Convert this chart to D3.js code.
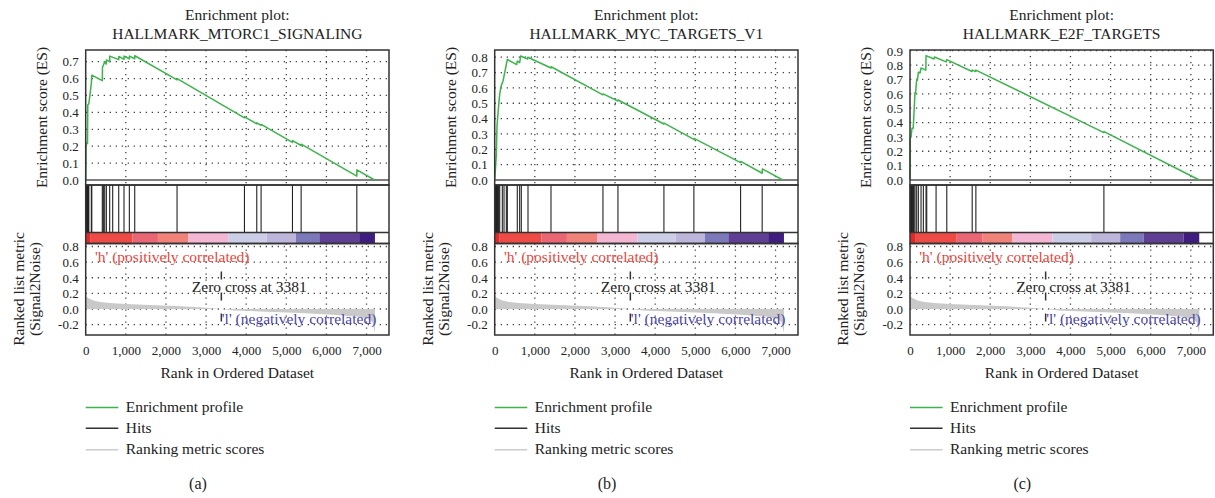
<!DOCTYPE html>
<html>
<head>
<meta charset="utf-8">
<script src="https://cdn.jsdelivr.net/npm/d3@7"></script>
<style>
  html, body { margin: 0; padding: 0; background: #fff; }
  svg { display: block; font-family: "Liberation Serif", "Times New Roman", serif; }
</style>
</head>
<body>
<svg id="chart" width="1215" height="498"></svg>
<script>
// ---------------- data ----------------
const panelLabels = ["(a)", "(b)", "(c)"];
const geneSets = ["HALLMARK_MTORC1_SIGNALING", "HALLMARK_MYC_TARGETS_V1", "HALLMARK_E2F_TARGETS"];

// running enrichment score, [rank, ES] vertices
const esCurveA = [[0,0],[8,0.22],[45,0.215],[52,0.445],[78,0.45],[140,0.57],[152,0.62],[414,0.588],[418,0.665],
  [474,0.70],[510,0.685],[515,0.71],[598,0.70],[600,0.733],[823,0.712],[825,0.731],[955,0.714],[957,0.733],
  [1088,0.716],[1090,0.733],[1222,0.717],[1224,0.735],[2277,0.592],[2279,0.600],[3957,0.368],[3959,0.374],
  [4264,0.332],[4266,0.338],[4372,0.323],[4374,0.329],[5154,0.223],[5156,0.233],[5370,0.204],[5372,0.212],
  [6758,0.023],[6760,0.060],[7200,0]];
const esCurveB = [[0,0],[40,0.16],[57,0.35],[90,0.46],[125,0.56],[157,0.61],[207,0.645],[249,0.70],[315,0.785],
  [548,0.752],[563,0.775],[622,0.765],[648,0.808],[822,0.788],[826,0.800],[1403,0.730],[1407,0.738],
  [2698,0.555],[2702,0.561],[3072,0.515],[3076,0.521],[4218,0.365],[4222,0.371],[4965,0.265],[4969,0.271],
  [6129,0.113],[6133,0.121],[6667,0.044],[6671,0.072],[7180,0]];
const esCurveC = [[0,0],[3,0.29],[25,0.30],[50,0.36],[80,0.36],[125,0.61],[140,0.605],[167,0.70],[185,0.695],
  [208,0.75],[250,0.745],[275,0.78],[395,0.765],[400,0.866],[600,0.842],[610,0.856],[900,0.822],[917,0.838],
  [1545,0.755],[1550,0.765],[1640,0.755],[1642,0.765],[4833,0.330],[4837,0.337],[7210,0]];

// ranks of the gene-set members in the ordered list
const hitsA = [3,8,14,20,27,35,45,52,60,68,78,140,152,414,440,474,515,598,673,823,955,1088,1222,
  2277,3957,4264,4372,5154,5370,6758];
const hitsB = [3,10,18,26,34,42,52,62,75,90,105,125,190,232,290,315,563,622,663,830,1403,2698,3072,
  4218,4965,6129,6667];
const hitsC = [3,10,18,26,35,45,55,70,85,100,125,167,208,275,333,400,417,650,917,1550,1642,4833];

// ranked list metric (Signal2Noise), [rank, value]
const metricCurve = [[0,0],[0,0.32],[4,0.20],[20,0.16],[60,0.14],[190,0.11],[360,0.09],[600,0.077],
  [1000,0.064],[1600,0.05],[2400,0.034],[3000,0.016],[3381,0],[3700,-0.018],[4500,-0.035],[5350,-0.05],
  [6150,-0.072],[6800,-0.098],[7050,-0.13],[7150,-0.17],[7200,-0.29],[7210,-0.29],[7210,0]];
const zeroCross = 3381;

// heat bar under the hits
const barBreaks = [0,125,1165,1800,2553,3553,4515,5238,5823,6816,7210];
const barColors = ["#e02a2a","#ee4b47","#ea6675","#f08279","#f4b7d3","#cccde6","#bdb6da","#7b79b9","#5e3f94","#3f1d80"];

// axes
const rankTicks = [0,1000,2000,3000,4000,5000,6000,7000];
const esTicksA = [0,0.1,0.2,0.3,0.4,0.5,0.6,0.7];
const esTicksB = [0,0.1,0.2,0.3,0.4,0.5,0.6,0.7,0.8];
const esTicksC = [0,0.1,0.2,0.3,0.4,0.5,0.6,0.7,0.8,0.9];
const metricTicks = [-0.2,0,0.2,0.4,0.6,0.8];

const legendItems = ["Enrichment profile", "Hits", "Ranking metric scores"];
const legendColors = ["#3cb44b", "#333333", "#cccccc"];

// ---------------- layout ----------------
const svg = d3.select("#chart");
const panelX = [85.7, 494.7, 910];
const panelW = 303.3;
const rankMax = 7560;
const esTopY = 50, esZeroY = 180, esBottomY = 185;
const hitsBottomY = 232.5, barBottomY = 243.5, metricBottomY = 335;
const esMax = [0.769, 0.847, 0.905];
const gridColor = "#444";
const green = "#3cb44b";

const panels = [
  { es: esCurveA, hits: hitsA, esTicks: esTicksA },
  { es: esCurveB, hits: hitsB, esTicks: esTicksB },
  { es: esCurveC, hits: hitsC, esTicks: esTicksC }
];

function dotted(sel) {
  return sel.attr("stroke", gridColor).attr("stroke-width", 1.3).attr("stroke-dasharray", "1.3,4.7");
}

panels.forEach((p, i) => {
  const x0 = panelX[i];
  const g = svg.append("g");
  const x = d3.scaleLinear().domain([0, rankMax]).range([x0, x0 + panelW]);
  const yEs = d3.scaleLinear().domain([0, esMax[i]]).range([esZeroY, esTopY]);
  const yM = d3.scaleLinear().domain([0, 0.8]).range([309, 246.5]);

  // title
  g.append("text").attr("x", x0 + panelW / 2).attr("y", 20).attr("text-anchor", "middle")
    .attr("font-size", 15.5).attr("fill", "#222").text("Enrichment plot:");
  g.append("text").attr("x", x0 + panelW / 2).attr("y", 38.5).attr("text-anchor", "middle")
    .attr("font-size", 15.5).attr("fill", "#222").text(geneSets[i]);

  // ---- ES panel ----
  p.esTicks.filter(t => t > 0).forEach(t => {
    dotted(g.append("line").attr("x1", x0).attr("x2", x0 + panelW).attr("y1", yEs(t)).attr("y2", yEs(t)));
  });
  rankTicks.filter(t => t > 0).forEach(t => {
    dotted(g.append("line").attr("x1", x(t)).attr("x2", x(t)).attr("y1", esTopY).attr("y2", esBottomY));
  });
  g.append("line").attr("x1", x0).attr("x2", x0 + panelW).attr("y1", yEs(0)).attr("y2", yEs(0))
    .attr("stroke", "#555").attr("stroke-width", 1.6);

  const esLine = d3.line().x(d => x(d[0])).y(d => yEs(d[1]));
  g.append("path").datum(p.es).attr("d", esLine).attr("fill", "none")
    .attr("stroke", green).attr("stroke-width", 1.5).attr("stroke-linejoin", "round");

  const esAxis = d3.axisLeft(yEs).tickValues(p.esTicks).tickSize(0).tickPadding(7)
    .tickFormat(d => d.toFixed(1));
  const ea = g.append("g").attr("transform", `translate(${x0},0)`).call(esAxis);
  ea.select(".domain").remove();
  ea.selectAll("text").attr("font-size", 13).attr("font-family", "Liberation Serif, serif")
    .attr("fill", "#222").attr("dy", "0.33em");

  g.append("rect").attr("x", x0).attr("y", esTopY).attr("width", panelW).attr("height", esBottomY - esTopY)
    .attr("fill", "none").attr("stroke", "#333").attr("stroke-width", 1.5);

  // ---- hits ----
  g.selectAll(".hit").data(p.hits).enter().append("line")
    .attr("x1", d => x(d)).attr("x2", d => x(d)).attr("y1", esBottomY).attr("y2", hitsBottomY)
    .attr("stroke", "#222").attr("stroke-width", 1.1);

  // ---- heat bar ----
  barColors.forEach((c, k) => {
    g.append("rect").attr("x", x(barBreaks[k])).attr("y", hitsBottomY)
      .attr("width", x(barBreaks[k + 1]) - x(barBreaks[k])).attr("height", barBottomY - hitsBottomY)
      .attr("fill", c);
  });
  g.append("rect").attr("x", x0).attr("y", esBottomY).attr("width", panelW).attr("height", barBottomY - esBottomY)
    .attr("fill", "none").attr("stroke", "#333").attr("stroke-width", 1.5);
  g.append("line").attr("x1", x0).attr("x2", x0 + panelW).attr("y1", hitsBottomY).attr("y2", hitsBottomY)
    .attr("stroke", "#333").attr("stroke-width", 1.5);

  // ---- ranked metric panel ----
  metricTicks.forEach(t => {
    dotted(g.append("line").attr("x1", x0).attr("x2", x0 + panelW).attr("y1", yM(t)).attr("y2", yM(t)));
  });
  rankTicks.filter(t => t > 0).forEach(t => {
    dotted(g.append("line").attr("x1", x(t)).attr("x2", x(t)).attr("y1", barBottomY).attr("y2", metricBottomY));
  });

  const area = d3.area().x(d => x(d[0])).y0(yM(0)).y1(d => yM(d[1]));
  g.append("path").datum(metricCurve).attr("d", area).attr("fill", "#c9c9c9");

  g.append("line").attr("x1", x(zeroCross)).attr("x2", x(zeroCross)).attr("y1", 271.5).attr("y2", 322)
    .attr("stroke", "#333").attr("stroke-width", 1.5).attr("stroke-dasharray", "8,13");

  g.append("text").attr("x", x0 + 9.3).attr("y", 261.5).attr("font-size", 15.5).attr("fill", "#e8453c")
    .text("'h' (positively correlated)");
  g.append("text").attr("x", x(zeroCross) - 29.5).attr("y", 291.5).attr("font-size", 15.5).attr("fill", "#222")
    .text("Zero cross at " + zeroCross);
  g.append("text").attr("x", x(zeroCross) + 0.5).attr("y", 323.5).attr("font-size", 15.5).attr("fill", "#4a44a6")
    .text("'l' (negatively correlated)");

  const mAxis = d3.axisLeft(yM).tickValues(metricTicks).tickSize(0).tickPadding(7)
    .tickFormat(d => d.toFixed(1));
  const ma = g.append("g").attr("transform", `translate(${x0},0)`).call(mAxis);
  ma.select(".domain").remove();
  ma.selectAll("text").attr("font-size", 13).attr("font-family", "Liberation Serif, serif")
    .attr("fill", "#222").attr("dy", "0.33em");

  g.append("rect").attr("x", x0).attr("y", barBottomY).attr("width", panelW).attr("height", metricBottomY - barBottomY)
    .attr("fill", "none").attr("stroke", "#333").attr("stroke-width", 1.5);

  // x axis
  const xAxis = d3.axisBottom(x).tickValues(rankTicks).tickSize(0).tickFormat(d3.format(","));
  const xa = g.append("g").attr("transform", `translate(0,${metricBottomY})`).call(xAxis);
  xa.select(".domain").remove();
  xa.selectAll("text").attr("font-size", 13).attr("font-family", "Liberation Serif, serif")
    .attr("fill", "#222").attr("y", 20).attr("dy", 0);

  g.append("text").attr("x", x0 + panelW / 2).attr("y", 377.5).attr("text-anchor", "middle")
    .attr("font-size", 15.5).attr("fill", "#222").text("Rank in Ordered Dataset");

  // y labels
  g.append("text").attr("transform", `translate(${x0 - 38.7},117.5) rotate(-90)`).attr("text-anchor", "middle")
    .attr("font-size", 15.5).attr("fill", "#222").text("Enrichment score (ES)");
  g.append("text").attr("transform", `translate(${x0 - 62.2},289) rotate(-90)`).attr("text-anchor", "middle")
    .attr("font-size", 15.5).attr("fill", "#222").text("Ranked list metric");
  g.append("text").attr("transform", `translate(${x0 - 45.7},289) rotate(-90)`).attr("text-anchor", "middle")
    .attr("font-size", 15.5).attr("fill", "#222").text("(Signal2Noise)");

  // legend
  const legY = [407.5, 428.3, 449.7];
  legendItems.forEach((name, k) => {
    g.append("line").attr("x1", x0).attr("x2", x0 + 32.6).attr("y1", legY[k]).attr("y2", legY[k])
      .attr("stroke", legendColors[k]).attr("stroke-width", 1.5);
    g.append("text").attr("x", x0 + 40).attr("y", legY[k] + 4.5).attr("font-size", 15.5)
      .attr("fill", "#222").text(name);
  });

  g.append("text").attr("x", x0 + 112.3).attr("y", 489).attr("text-anchor", "middle")
    .attr("font-size", 16).attr("fill", "#222").text(panelLabels[i]);
});
</script>
</body>
</html>
